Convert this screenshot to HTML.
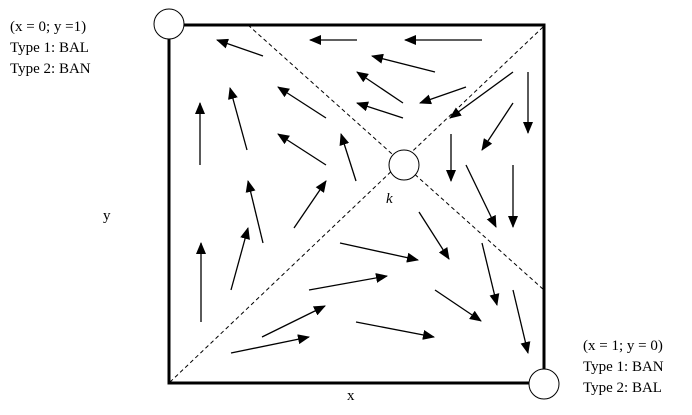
<!DOCTYPE html>
<html><head><style>html,body{margin:0;padding:0;background:#fff;}svg{display:block}</style></head>
<body>
<svg width="692" height="415" viewBox="0 0 692 415" xmlns="http://www.w3.org/2000/svg" font-family="Liberation Serif, serif" font-size="15">
<defs><marker id="a" markerWidth="12" markerHeight="10" refX="11" refY="5" orient="auto" markerUnits="userSpaceOnUse"><path d="M0,0 L12,5 L0,10 z" fill="#000"/></marker></defs>
<rect x="169" y="25" width="375" height="358" fill="none" stroke="#000" stroke-width="3"/>
<g stroke="#000" stroke-width="1" stroke-dasharray="4,3"><line x1="248" y1="25" x2="544" y2="290"/><line x1="543" y1="27" x2="169" y2="383"/></g>
<g stroke="#000" stroke-width="1.3" marker-end="url(#a)">
<line x1="263" y1="56" x2="217" y2="40"/><line x1="357" y1="40" x2="310" y2="40"/><line x1="482" y1="40" x2="405" y2="40"/>
<line x1="435" y1="72" x2="372" y2="56"/><line x1="403" y1="103" x2="357" y2="72"/><line x1="466" y1="87" x2="420" y2="103"/>
<line x1="403" y1="118" x2="357" y2="103"/><line x1="513" y1="72" x2="450" y2="118"/><line x1="528" y1="72" x2="528" y2="133"/>
<line x1="513" y1="103" x2="482" y2="150"/><line x1="200" y1="165" x2="200" y2="103"/><line x1="247" y1="150" x2="230" y2="88"/>
<line x1="326" y1="118" x2="278" y2="87"/><line x1="326" y1="165" x2="278" y2="134"/><line x1="356" y1="181" x2="341" y2="134"/>
<line x1="451" y1="134" x2="451" y2="181"/><line x1="466" y1="165" x2="496" y2="227"/><line x1="513" y1="165" x2="513" y2="227"/>
<line x1="263" y1="243" x2="248" y2="181"/><line x1="294" y1="228" x2="326" y2="181"/><line x1="201" y1="322" x2="201" y2="243"/>
<line x1="231" y1="290" x2="248" y2="228"/><line x1="340" y1="243" x2="418" y2="260"/><line x1="419" y1="212" x2="449" y2="259"/>
<line x1="309" y1="290" x2="387" y2="276"/><line x1="262" y1="337" x2="325" y2="306"/><line x1="231" y1="353" x2="309" y2="337"/>
<line x1="356" y1="322" x2="434" y2="337"/><line x1="435" y1="290" x2="481" y2="321"/><line x1="482" y1="243" x2="497" y2="305"/>
<line x1="513" y1="290" x2="528" y2="353"/>
</g>
<g fill="#fff" stroke="#000" stroke-width="1"><circle cx="169" cy="24" r="15"/><circle cx="404" cy="165" r="15"/><circle cx="544" cy="384" r="15"/></g>
<g fill="#000">
<text x="10" y="31">(x = 0; y =1)</text><text x="10" y="52">Type 1: BAL</text><text x="10" y="73">Type 2: BAN</text>
<text x="583" y="350">(x = 1; y = 0)</text><text x="583" y="371">Type 1: BAN</text><text x="583" y="392">Type 2: BAL</text>
<text x="103" y="220">y</text><text x="347" y="400">x</text><text x="386" y="203" font-style="italic">k</text>
</g>
</svg>
</body></html>
